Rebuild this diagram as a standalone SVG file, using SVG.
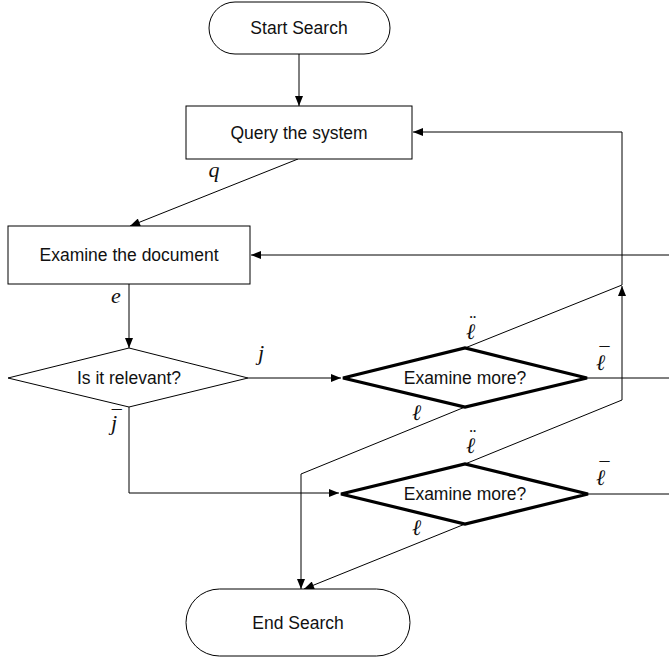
<svg xmlns="http://www.w3.org/2000/svg" width="669" height="665" viewBox="0 0 669 665">
<defs>
<style>
.n{fill:#fff;stroke:#000;stroke-width:1}
.t{stroke:#000;stroke-width:3.2;fill:#fff;stroke-linejoin:miter}
.lb{font-family:"Liberation Sans",Arial,sans-serif;font-size:17.5px;text-anchor:middle;fill:#111}
.m{font-family:"Liberation Serif","DejaVu Serif",serif;font-style:italic;font-size:22px;text-anchor:middle;fill:#111}
.l{font-family:"DejaVu Serif",serif;font-style:italic;font-size:22px;text-anchor:start;fill:#111}
.d{font-family:"Liberation Serif",serif;font-style:normal;font-size:20px}
.c{fill:none;stroke:#000;stroke-width:1}
</style>
<marker id="a" viewBox="0 0 10 8" refX="10" refY="4" markerWidth="11" markerHeight="8" markerUnits="userSpaceOnUse" orient="auto">
<path d="M0,0 L10,4 L0,8 Z" fill="#000"/>
</marker>
</defs>
<rect width="669" height="665" fill="#fff"/>
<g id="connectors">
<path class="c" d="M299,54 L299,106" marker-end="url(#a)"/>
<path class="c" d="M298,159 L130,226" marker-end="url(#a)"/>
<path class="c" d="M129,284 L129,348" marker-end="url(#a)"/>
<path class="c" d="M248,378 L341,378" marker-end="url(#a)"/>
<path class="c" d="M129,407 L129,493 L339,493" marker-end="url(#a)"/>
<path class="c" d="M465,348 L622,285 L622,132 L413,132" marker-end="url(#a)"/>
<path class="c" d="M587,378 L669,378"/>
<path class="c" d="M669,255 L251,255" marker-end="url(#a)"/>
<path class="c" d="M465,407 L301,474 L301,589" marker-end="url(#a)"/>
<path class="c" d="M465,464 L622,400 L622,286" marker-end="url(#a)"/>
<path class="c" d="M588,494 L669,494"/>
<path class="c" d="M465,524 L304,589" marker-end="url(#a)"/>
</g>
<g id="start"><rect class="n" x="209" y="2" width="181" height="52" rx="26"/><text class="lb" x="299" y="34">Start Search</text></g>
<g id="query"><rect class="n" x="186" y="106" width="226" height="53"/><text class="lb" x="299" y="139">Query the system</text></g>
<g id="examine"><rect class="n" x="8" y="226" width="242" height="58"/><text class="lb" x="129" y="261">Examine the document</text></g>
<g id="relevant"><polygon class="n" points="8,378 129,348 248,378 129,407"/><text class="lb" x="129" y="384">Is it relevant?</text></g>
<g id="more1"><polygon class="t" points="343,378 465,348 587,378 465,407"/><text class="lb" x="465" y="384">Examine more?</text></g>
<g id="more2"><polygon class="t" points="341,494 465,464 588,494 465,524"/><text class="lb" x="465" y="500">Examine more?</text></g>
<g id="end"><rect class="n" x="186" y="589" width="224" height="67" rx="33.5"/><text class="lb" x="298" y="629">End Search</text></g>
<g id="labels">
<text class="m" x="214" y="177">q</text>
<text class="m" x="116" y="303">e</text>
<text class="m" x="261" y="360">j</text>
<text class="m" x="111" y="430" style="text-anchor:start">j<tspan class="d" dx="-5.4" dy="-5">¯</tspan></text>
<text class="l" x="466" y="339">ℓ<tspan class="d" dx="-5.7" dy="-10">¨</tspan></text>
<text class="l" x="596" y="370">ℓ<tspan class="d" dx="-5.7" dy="-8">¯</tspan></text>
<text class="l" x="412" y="420">ℓ</text>
<text class="l" x="466" y="453">ℓ<tspan class="d" dx="-5.7" dy="-10">¨</tspan></text>
<text class="l" x="596" y="485">ℓ<tspan class="d" dx="-5.7" dy="-8">¯</tspan></text>
<text class="l" x="412" y="535">ℓ</text>
</g>
</svg>
